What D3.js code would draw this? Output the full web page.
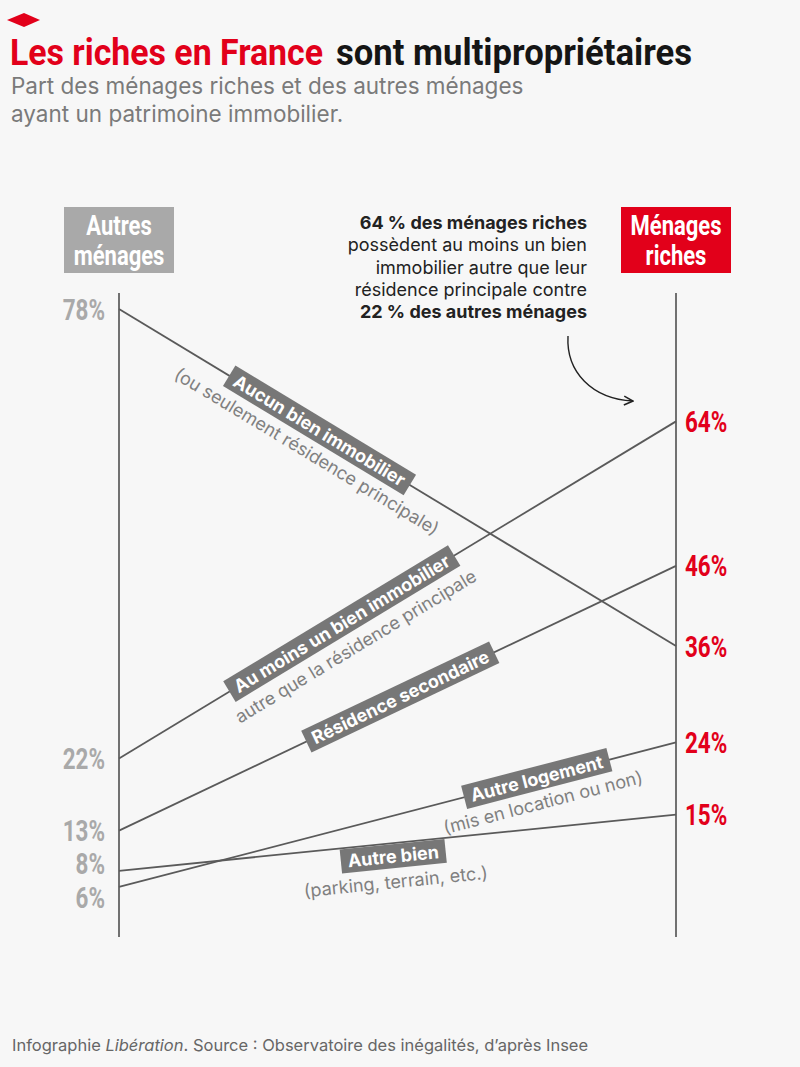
<!DOCTYPE html>
<html>
<head>
<meta charset="utf-8">
<script src="https://cdn.jsdelivr.net/npm/d3@7"></script>
<style>
  body { margin: 0; background: #f7f7f7; }
  svg { display: block; }
</style>
</head>
<body>
<svg id="chart"></svg>
<script>
// data
var columns = ["Autres ménages", "Ménages riches"];
var categories = ["Aucun bien immobilier", "Au moins un bien immobilier", "Résidence secondaire", "Autre logement", "Autre bien"];
var subLabels = ["(ou seulement résidence principale)", "autre que la résidence principale", "", "(mis en location ou non)", "(parking, terrain, etc.)"];
var autresMenages = [78, 22, 13, 6, 8];
var menagesRiches = [36, 64, 46, 24, 15];

// where the label sits along each line (0 = left axis, 1 = right axis)
var labelAt = [0.36, 0.40, 0.505, 0.75, 0.49];
var boxShift = [0, 0, 0, 0, 13];
var subShift = [25, 27, 0, 25, 39];

var W = 800, H = 1067;
var red = "#e2001a";
// no condensed face installed: squeeze Roboto bold horizontally instead
var cond = "Roboto,'Liberation Sans',sans-serif";
var sans = "Inter,'Noto Sans',sans-serif";

var svg = d3.select('#chart').attr('width', W).attr('height', H);
svg.append('rect').attr('width', W).attr('height', H).attr('fill', '#f7f7f7');

// squeezed bold text helper
function squeeze(parent, x, y, str, size, color, anchor, sx) {
  return parent.append('text')
    .attr('transform', 'translate(' + x + ',' + y + ') scale(' + sx + ',1)')
    .attr('text-anchor', anchor)
    .style('font-family', cond).style('font-weight', 'bold').style('font-size', size + 'px')
    .attr('fill', color)
    .text(str);
}

// header
svg.append('polygon')
  .attr('points', '7,20 24,13 40,20 24,27')
  .attr('fill', red);

svg.append('text')
  .attr('x', 10).attr('y', 65)
  .attr('textLength', 313).attr('lengthAdjust', 'spacingAndGlyphs')
  .style('font-family', cond).style('font-weight', 'bold').style('font-size', '37px')
  .attr('fill', red)
  .text('Les riches en France');
svg.append('text')
  .attr('x', 336).attr('y', 65)
  .attr('textLength', 356).attr('lengthAdjust', 'spacingAndGlyphs')
  .style('font-family', cond).style('font-weight', 'bold').style('font-size', '37px')
  .attr('fill', '#151515')
  .text('sont multipropriétaires');

svg.selectAll('.sub')
  .data(['Part des ménages riches et des autres ménages', 'ayant un patrimoine immobilier.'])
  .enter().append('text')
  .attr('x', 11).attr('y', function(d, i){ return 94 + i * 28; })
  .style('font-family', sans).style('font-size', '22.5px')
  .attr('fill', '#7a7a7a')
  .text(function(d){ return d; });

// scales
var x = d3.scalePoint().domain(columns).range([119, 676]);
var y = d3.scaleLinear().domain([0, 78]).range([935, 309]);

// column headers
var headColors = ['#a9a9a9', red];
var headWords = [['Autres', 'ménages'], ['Ménages', 'riches']];
columns.forEach(function(c, i){
  var cx = x(c);
  var g = svg.append('g');
  g.append('rect')
    .attr('x', cx - 55).attr('y', 207).attr('width', 110).attr('height', 66)
    .attr('fill', headColors[i]);
  headWords[i].forEach(function(w, j){
    squeeze(g, cx, 235 + j * 30, w, 27.5, '#fff', 'middle', 0.8);
  });
});

// axes (vertical rules)
columns.forEach(function(c){
  svg.append('line')
    .attr('x1', x(c)).attr('x2', x(c))
    .attr('y1', y(80)).attr('y2', y(0) + 2)
    .attr('stroke', '#444').attr('stroke-width', 1.5);
});

// slope lines
var rows = categories.map(function(c, i){
  return { name: c, sub: subLabels[i], a: autresMenages[i], b: menagesRiches[i], i: i };
});

svg.selectAll('.slope')
  .data(rows)
  .enter().append('line')
  .attr('class', 'slope')
  .attr('x1', x(columns[0])).attr('y1', function(d){ return y(d.a); })
  .attr('x2', x(columns[1])).attr('y2', function(d){ return y(d.b); })
  .attr('stroke', '#5a5a5a').attr('stroke-width', 1.8);

// value labels, pushed apart when too close
function spread(vals, gap){
  var pts = vals.map(function(v){ return { v: v, y: y(v) }; });
  pts.sort(function(p, q){ return p.y - q.y; });
  for (var k = 1; k < pts.length; k++) {
    var d = pts[k].y - pts[k - 1].y;
    if (d < gap) {
      pts[k - 1].y -= (gap - d) / 2 - 2;
      pts[k].y += (gap - d) / 2 + 2;
    }
  }
  return pts;
}

spread(autresMenages, 34).forEach(function(p){
  squeeze(svg, 105, p.y + 10.5, p.v + '%', 29.5, '#a9a9a9', 'end', 0.76);
});
spread(menagesRiches, 34).forEach(function(p){
  squeeze(svg, 685, p.y + 10.5, p.v + '%', 29.5, red, 'start', 0.76);
});

// labels on the lines
rows.forEach(function(d){
  var x1 = x(columns[0]), y1 = y(d.a), x2 = x(columns[1]), y2 = y(d.b);
  var t = labelAt[d.i];
  var cx = x1 + t * (x2 - x1), cy = y1 + t * (y2 - y1);
  var ang = Math.atan2(y2 - y1, x2 - x1) * 180 / Math.PI;
  var g = svg.append('g').attr('transform', 'translate(' + cx + ',' + cy + ') rotate(' + ang + ')');
  var box = g.append('rect').attr('fill', '#777');
  var txt = g.append('text')
    .attr('x', 0).attr('y', boxShift[d.i] + 6.5)
    .attr('text-anchor', 'middle')
    .style('font-family', sans).style('font-weight', 'bold').style('font-size', '18px')
    .attr('fill', '#fff')
    .text(d.name);
  var w = txt.node().getComputedTextLength() + 14;
  box.attr('x', -w / 2).attr('y', boxShift[d.i] - 12).attr('width', w).attr('height', 24);
  if (d.sub) {
    g.append('text')
      .attr('x', 0).attr('y', subShift[d.i] + 6)
      .attr('text-anchor', 'middle')
      .style('font-family', sans).style('font-size', '18px')
      .attr('fill', '#808080')
      .text(d.sub);
  }
});

// annotation
var note = [
  ['64 % des ménages riches', true],
  ['possèdent au moins un bien', false],
  ['immobilier autre que leur', false],
  ['résidence principale contre', false],
  ['22 % des autres ménages', true]
];
note.forEach(function(n, i){
  svg.append('text')
    .attr('x', 587).attr('y', 229 + i * 22.3)
    .attr('text-anchor', 'end')
    .style('font-family', sans).style('font-size', '18px')
    .style('font-weight', n[1] ? 'bold' : 'normal')
    .attr('fill', '#222')
    .text(n[0]);
});

svg.append('defs').append('marker')
  .attr('id', 'head').attr('viewBox', '0 0 10 10')
  .attr('refX', 9).attr('refY', 5)
  .attr('markerWidth', 8).attr('markerHeight', 8)
  .attr('orient', 'auto')
  .append('path').attr('d', 'M1,1 L9,5 L1,9')
  .attr('fill', 'none').attr('stroke', '#222').attr('stroke-width', 1.4);

svg.append('path')
  .attr('d', 'M568,336 C566,372 592,399 633,401')
  .attr('fill', 'none').attr('stroke', '#222').attr('stroke-width', 1.4)
  .attr('marker-end', 'url(#head)');

// footer
var foot = svg.append('text')
  .attr('x', 12).attr('y', 1051)
  .style('font-family', sans).style('font-size', '16.5px')
  .attr('fill', '#666');
foot.append('tspan').text('Infographie ');
foot.append('tspan').style('font-style', 'italic').text('Libération');
foot.append('tspan').text('. Source : Observatoire des inégalités, d’après Insee');
</script>
</body>
</html>
